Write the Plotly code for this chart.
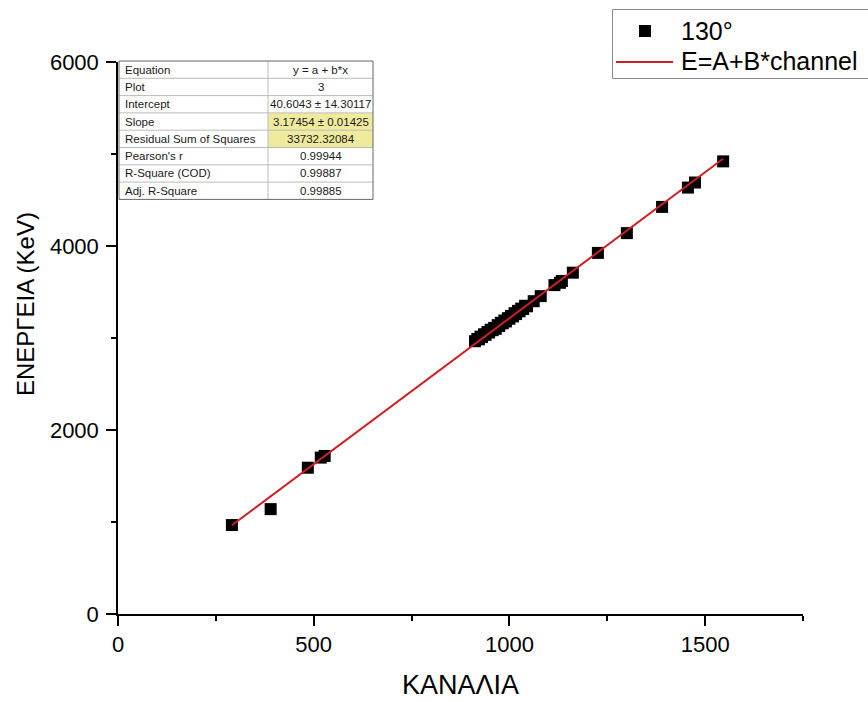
import plotly.graph_objects as go

# Calibration data: channel number vs. gamma energy (130 deg detector)
channel = [291, 390, 485, 518, 528,
           912, 918, 922, 926, 930, 935, 939, 944, 948, 952, 957, 961, 965, 970,
           974, 978, 983, 987, 991, 996, 1000, 1004, 1009, 1013, 1017, 1022, 1026,
           1030, 1035, 1040, 1045,
           1062, 1080, 1115, 1129, 1134, 1162, 1226, 1300, 1390, 1456, 1474, 1546]
energy = [967, 1140, 1590, 1700, 1718,
          2965, 2990, 2985, 3015, 3010, 3040, 3035, 3065, 3060, 3090, 3085, 3110, 3100, 3140,
          3130, 3165, 3160, 3190, 3180, 3215, 3210, 3240, 3235, 3270, 3260, 3295, 3290,
          3320, 3315, 3350, 3345,
          3400, 3455, 3575, 3600, 3620, 3710, 3925, 4140, 4425, 4635, 4690, 4920]

# Linear fit results (Origin "Linear Fit" table)
intercept = 40.6043
slope = 3.17454
fit_rows = ["Equation", "Plot", "Intercept", "Slope", "Residual Sum of Squares",
            "Pearson's r", "R-Square (COD)", "Adj. R-Square"]
fit_vals = ["y = a + b*x", "3", "40.6043 ± 14.30117", "3.17454 ± 0.01425",
            "33732.32084", "0.99944", "0.99887", "0.99885"]
highlighted = [3, 4]

x_ticks = [0, 500, 1000, 1500]
y_ticks = [0, 2000, 4000, 6000]

FONT = "Arial, Liberation Sans, sans-serif"
W, H = 868, 702
ML, MR, MT, MB = 118, 65, 62, 88
PW, PH = W - ML - MR, H - MT - MB
RED = "#CF1F26"


def px(x):
    return (x - ML) / PW


def py(y):
    return (H - MB - y) / PH


fig = go.Figure()

fig.add_trace(go.Scatter(
    x=channel, y=energy, mode="markers", name="130°",
    marker=dict(symbol="square", size=12, color="black", line=dict(width=0)),
    showlegend=False,
))

x0, x1 = min(channel), max(channel)
fig.add_trace(go.Scatter(
    x=[x0, x1], y=[intercept + slope * x0, intercept + slope * x1],
    mode="lines", name="E=A+B*channel",
    line=dict(color=RED, width=2), showlegend=False,
))

shapes = []
annotations = []

# Fit-results table in the upper-left corner of the axes
t_left, t_right, t_mid, t_top, row_h = 119, 373, 268, 61, 17.3
for i, (name, val) in enumerate(zip(fit_rows, fit_vals)):
    top = t_top + i * row_h
    bot = top + row_h
    if i in highlighted:
        shapes.append(dict(type="rect", xref="paper", yref="paper",
                           x0=px(t_mid), x1=px(t_right), y0=py(bot), y1=py(top),
                           fillcolor="#F0EA9C", line=dict(width=0), layer="above"))
    if i > 0:
        shapes.append(dict(type="line", xref="paper", yref="paper",
                           x0=px(t_left), x1=px(t_right), y0=py(top), y1=py(top),
                           line=dict(color="#BBBBBB", width=1), layer="above"))
    mid = (top + bot) / 2
    annotations.append(dict(xref="paper", yref="paper", x=px(t_left + 4), y=py(mid),
                            text=name, showarrow=False, xanchor="left", yanchor="middle",
                            font=dict(family=FONT, size=11.5, color="#1A1A1A")))
    annotations.append(dict(xref="paper", yref="paper", x=px((t_mid + t_right) / 2), y=py(mid),
                            text=val, showarrow=False, xanchor="center", yanchor="middle",
                            font=dict(family=FONT, size=11.5, color="#1A1A1A")))
t_bot = t_top + len(fit_rows) * row_h
shapes.append(dict(type="line", xref="paper", yref="paper",
                   x0=px(t_mid), x1=px(t_mid), y0=py(t_bot), y1=py(t_top),
                   line=dict(color="#BBBBBB", width=1), layer="above"))
shapes.append(dict(type="rect", xref="paper", yref="paper",
                   x0=px(t_left), x1=px(t_right), y0=py(t_bot), y1=py(t_top),
                   line=dict(color="#666666", width=1), layer="above"))

# Legend box (runs off the right edge of the page)
lg_left, lg_top, lg_bot, lg_right = 612.5, 9.5, 78.5, W + 5
for seg in ((lg_left, lg_top, lg_right, lg_top),
            (lg_left, lg_bot, lg_right, lg_bot),
            (lg_left, lg_top, lg_left, lg_bot)):
    shapes.append(dict(type="line", xref="paper", yref="paper",
                       x0=px(seg[0]), y0=py(seg[1]), x1=px(seg[2]), y1=py(seg[3]),
                       line=dict(color="#888888", width=1), layer="above"))
shapes.append(dict(type="rect", xref="paper", yref="paper",
                   x0=px(639), x1=px(651), y0=py(37), y1=py(25),
                   line=dict(width=0), fillcolor="black", layer="above"))
shapes.append(dict(type="line", xref="paper", yref="paper",
                   x0=px(616), x1=px(673), y0=py(62), y1=py(62),
                   line=dict(color=RED, width=2), layer="above"))
for label, yy in (("130°", 31), ("E=A+B*channel", 61)):
    annotations.append(dict(xref="paper", yref="paper", x=px(680), y=py(yy),
                            text=label, showarrow=False, xanchor="left", yanchor="middle",
                            borderpad=0,
                            font=dict(family=FONT, size=25, color="black")))

# Axis titles
annotations.append(dict(xref="paper", yref="paper", x=px(460), y=py(685),
                        text="ΚΑΝΑΛΙΑ", showarrow=False, xanchor="center", yanchor="middle",
                        borderpad=0,
                        font=dict(family=FONT, size=27, color="black")))
annotations.append(dict(xref="paper", yref="paper", x=px(25), y=py(304),
                        text="ΕΝΕΡΓΕΙΑ (KeV)", showarrow=False, textangle=-90,
                        xanchor="center", yanchor="middle",
                        font=dict(family=FONT, size=24, color="black")))

axis_common = dict(
    showgrid=False, zeroline=False, showline=True, linecolor="black", linewidth=1.5,
    ticks="outside", ticklen=10, tickwidth=1.5, tickcolor="black",
    tickfont=dict(family=FONT, size=22, color="black"),
)

fig.update_layout(
    width=W, height=H,
    margin=dict(l=ML, r=MR, t=MT, b=MB, pad=0),
    paper_bgcolor="white", plot_bgcolor="white",
    showlegend=False,
    xaxis=dict(range=[0, 1750], tickvals=x_ticks,
               minor=dict(ticks="outside", ticklen=5, tickwidth=1.5, tickcolor="black",
                          tickvals=[250, 750, 1250, 1750]),
               **axis_common),
    yaxis=dict(range=[0, 6000], tickvals=y_ticks, ticklabelstandoff=3,
               minor=dict(ticks="outside", ticklen=5, tickwidth=1.5, tickcolor="black",
                          tickvals=[1000, 3000, 5000]),
               **axis_common),
    shapes=shapes,
    annotations=annotations,
)

fig.write_html("out.html")
